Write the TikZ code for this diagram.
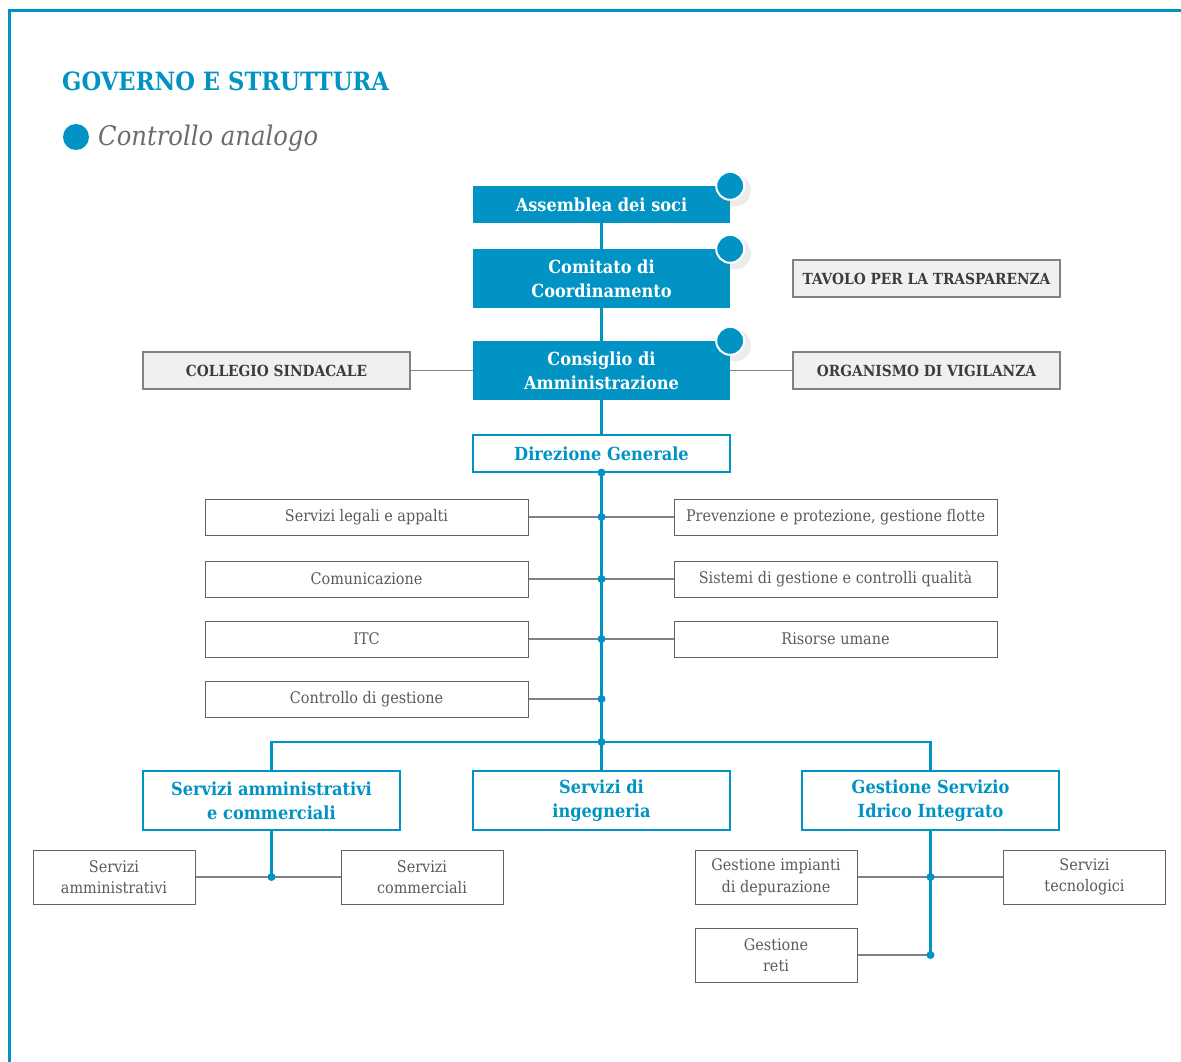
\documentclass[tikz,border=0pt]{standalone}
\usepackage{fontspec}
\setmainfont{DejaVu Serif Condensed}
\usetikzlibrary{positioning,shadows}
\definecolor{acqua}{RGB}{0,147,196}
\definecolor{lineagrigia}{RGB}{130,130,130}
\definecolor{testogrigio}{RGB}{90,90,90}
\definecolor{testoscuro}{RGB}{60,60,60}
\definecolor{fondogrigio}{RGB}{240,240,240}
\tikzset{
  organo/.style={fill=acqua, text=white, font=\bfseries\fontsize{18}{24}\selectfont,
    minimum width=257pt, align=center, inner sep=0pt},
  direzione/.style={draw=acqua, line width=1.2pt, fill=white, text=acqua,
    font=\bfseries\fontsize{18}{24}\selectfont, minimum width=257pt, align=center, inner sep=0pt},
  controllo/.style={draw=lineagrigia, line width=1.2pt, fill=fondogrigio, text=testoscuro,
    font=\bfseries\fontsize{15.3}{17}\selectfont, minimum width=267pt, minimum height=37pt, inner sep=0pt},
  ufficio/.style={draw=testoscuro!80, line width=1pt, text=testogrigio,
    font=\fontsize{16}{21}\selectfont, minimum width=323pt, minimum height=36pt, inner sep=0pt},
  servizio/.style={draw=testoscuro!80, line width=1pt, text=testogrigio, align=center,
    font=\fontsize{16}{21.5}\selectfont, minimum width=162pt, minimum height=54pt, inner sep=0pt},
  ramo/.style={acqua, line width=2.6pt},
  filo/.style={lineagrigia, line width=1.3pt},
  snodo/.style={circle, fill=acqua, inner sep=0pt, minimum size=8pt},
  bollino/.style={circle, fill=acqua, draw=white, line width=2pt, minimum size=28pt, inner sep=0pt,
    drop shadow={opacity=0.15, shadow xshift=4pt, shadow yshift=-4pt, shadow scale=1.15}}
}
\begin{document}
\begin{tikzpicture}[x=1pt,y=-1pt]
\useasboundingbox (0,0) rectangle (1181,1062);
\draw[acqua, line width=2.5pt] (9.5,1062) -- (9.5,10.5) -- (1181,10.5);
\node[anchor=base west, inner sep=0pt, text=acqua, font=\bfseries\fontsize{25.2}{30}\selectfont] (titolo) at (62,91) {GOVERNO E STRUTTURA};
\fill[acqua] (76,137) circle (13);
\node[anchor=base west, inner sep=0pt, text=testogrigio!90, font=\itshape\fontsize{27}{30}\selectfont] (sottotitolo) at (98,146) {Controllo analogo};

% organi di governo
\node[organo, minimum height=37pt] (soci) at (601.5,204.5) {Assemblea dei soci};
\node[organo, minimum height=59pt] (comitato) at (601.5,278.5) {Comitato di\\Coordinamento};
\node[organo, minimum height=59pt] (consiglio) at (601.5,370.5) {Consiglio di\\Amministrazione};
\node[direzione, minimum height=37pt] (direzione) at (601.5,453.5) {Direzione Generale};
\node[controllo] (collegio) at (276.5,370.5) {COLLEGIO SINDACALE};
\node[controllo] (vigilanza) at (926.5,370.5) {ORGANISMO DI VIGILANZA};
\node[controllo] (tavolo) at (926.5,278.5) {TAVOLO PER LA TRASPARENZA};
\draw[ramo] (soci) -- (comitato);
\draw[ramo] (comitato) -- (consiglio);
\draw[ramo] (consiglio) -- (direzione);
\draw[filo] (collegio) -- (consiglio);
\draw[filo] (vigilanza) -- (consiglio);
\node[bollino] (b1) at (soci.north east) {};
\node[bollino] (b2) at (comitato.north east) {};
\node[bollino] (b3) at (consiglio.north east) {};

% staff
\node[ufficio] (legali) at (366.5,517) {Servizi legali e appalti};
\node[ufficio] (comunicazione) at (366.5,579) {Comunicazione};
\node[ufficio] (itc) at (366.5,639) {ITC};
\node[ufficio] (gestione) at (366.5,699) {Controllo di gestione};
\node[ufficio] (prevenzione) at (835.5,517) {Prevenzione e protezione, gestione flotte};
\node[ufficio] (qualita) at (835.5,579) {Sistemi di gestione e controlli qualità};
\node[ufficio] (risorse) at (835.5,639) {Risorse umane};
\coordinate (nodo) at (601.5,742);
\draw[ramo] (direzione.south) -- (nodo);
\node[snodo] at (direzione.south) {};
\foreach \s/\d in {legali/prevenzione,comunicazione/qualita,itc/risorse}{
  \draw[filo] (\s) -- (\d);
  \node[snodo] at (direzione.south |- \s) {};
}
\draw[filo] (gestione) -- (direzione.south |- gestione);
\node[snodo] at (direzione.south |- gestione) {};

% aree operative
\node[direzione, minimum height=59pt] (amministrativi) at (271.5,800.5) {Servizi amministrativi\\e commerciali};
\node[direzione, minimum height=59pt] (ingegneria) at (601.5,800.5) {Servizi di\\ingegneria};
\node[direzione, minimum height=59pt] (idrico) at (930.5,800.5) {Gestione Servizio\\Idrico Integrato};
\draw[ramo] (amministrativi.north) |- (nodo) -| (idrico.north);
\draw[ramo] (nodo) -- (ingegneria.north);
\node[snodo] at (nodo) {};

\node[servizio] (servamm) at (114,877) {Servizi\\amministrativi};
\node[servizio] (servcomm) at (422,877) {Servizi\\commerciali};
\draw[filo] (servamm) -- (servcomm);
\draw[ramo] (amministrativi.south) -- (amministrativi.south |- servamm);
\node[snodo] at (amministrativi.south |- servamm) {};

\node[servizio] (impianti) at (776,877) {Gestione impianti\\di depurazione};
\node[servizio] (tecnologici) at (1084.5,877) {Servizi\\tecnologici};
\node[servizio] (reti) at (776,955) {Gestione\\reti};
\draw[filo] (impianti) -- (tecnologici);
\draw[filo] (reti) -- (idrico.south |- reti);
\draw[ramo] (idrico.south) -- (idrico.south |- reti);
\node[snodo] at (idrico.south |- impianti) {};
\node[snodo] at (idrico.south |- reti) {};
\end{tikzpicture}
\end{document}
